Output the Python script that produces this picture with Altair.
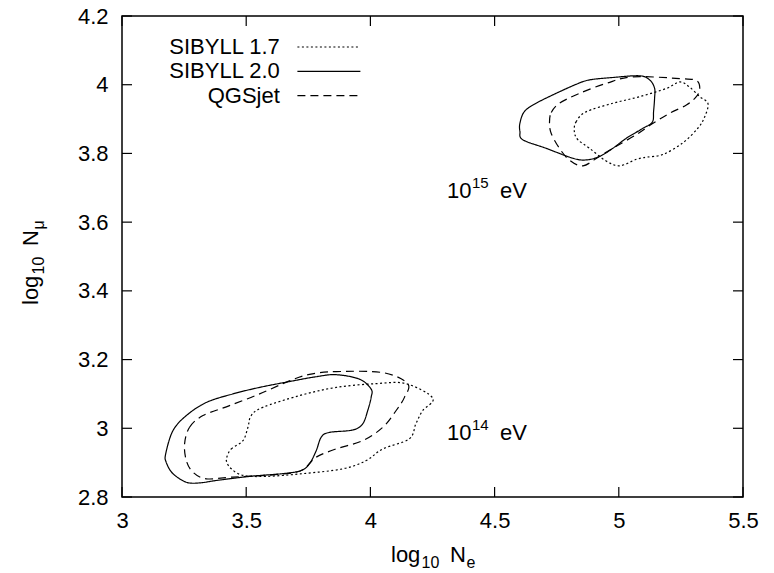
import altair as alt
import pandas as pd

# ---------------- data ----------------
X_TICKS = [3, 3.5, 4, 4.5, 5, 5.5]
Y_TICKS = [2.8, 3.0, 3.2, 3.4, 3.6, 3.8, 4.0, 4.2]
MODELS = ["SIBYLL 1.7", "SIBYLL 2.0", "QGSjet"]

# SIBYLL 2.0 (solid), 10^14 eV
sib20_lo_x = [3.176, 3.205, 3.259, 3.339, 3.446, 3.554, 3.674, 3.781, 3.862, 3.956, 4.003, 4.003, 3.989,
              3.969, 3.929, 3.835, 3.802, 3.782, 3.755, 3.721, 3.647, 3.513, 3.379, 3.312, 3.259, 3.205, 3.178]
sib20_lo_y = [2.926, 2.993, 3.037, 3.075, 3.100, 3.119, 3.136, 3.150, 3.156, 3.143, 3.114, 3.090, 3.051,
              3.013, 2.995, 2.988, 2.974, 2.935, 2.897, 2.877, 2.868, 2.860, 2.848, 2.841, 2.843, 2.868, 2.901]
# SIBYLL 2.0 (solid), 10^15 eV
sib20_hi_x = [4.602, 4.620, 4.667, 4.748, 4.828, 4.882, 4.976, 5.083, 5.124, 5.144, 5.144, 5.140, 5.135,
              5.097, 5.030, 4.976, 4.922, 4.868, 4.815, 4.707, 4.613, 4.602]
sib20_hi_y = [3.888, 3.922, 3.946, 3.975, 4.001, 4.014, 4.021, 4.026, 4.014, 3.990, 3.960, 3.922, 3.891,
              3.873, 3.844, 3.815, 3.791, 3.781, 3.786, 3.815, 3.840, 3.864]
# QGSjet (dashed), 10^14 eV
qgs_lo_x = [3.252, 3.272, 3.326, 3.433, 3.554, 3.674, 3.755, 3.862, 4.050, 4.150, 4.137, 4.103, 4.050,
            3.969, 3.862, 3.782, 3.741, 3.701, 3.580, 3.446, 3.339, 3.286, 3.259]
qgs_lo_y = [2.955, 3.003, 3.037, 3.066, 3.100, 3.138, 3.157, 3.165, 3.162, 3.130, 3.090, 3.051, 3.003,
            2.964, 2.940, 2.916, 2.887, 2.872, 2.863, 2.858, 2.853, 2.872, 2.906]
# QGSjet (dashed), 10^15 eV
qgs_hi_x = [4.721, 4.728, 4.761, 4.842, 4.950, 5.056, 5.245, 5.312, 5.326, 5.312, 5.272, 5.205, 5.138,
            5.071, 4.990, 4.923, 4.856, 4.801, 4.761, 4.728]
qgs_hi_y = [3.890, 3.919, 3.946, 3.975, 4.004, 4.023, 4.018, 4.012, 3.989, 3.965, 3.941, 3.917, 3.888,
            3.855, 3.821, 3.792, 3.764, 3.781, 3.815, 3.858]
# SIBYLL 1.7 (dotted), 10^14 eV
sib17_lo_x = [3.422, 3.440, 3.487, 3.507, 3.520, 3.567, 3.714, 3.862, 4.023, 4.143, 4.251, 4.210, 4.183,
              4.156, 4.050, 3.983, 3.889, 3.728, 3.580, 3.487, 3.440, 3.422]
sib17_lo_y = [2.916, 2.940, 2.964, 3.003, 3.037, 3.061, 3.095, 3.119, 3.130, 3.130, 3.088, 3.051, 3.013,
              2.969, 2.940, 2.906, 2.882, 2.868, 2.860, 2.863, 2.882, 2.901]
# SIBYLL 1.7 (dotted), 10^15 eV
sib17_hi_x = [4.821, 4.828, 4.868, 4.976, 5.083, 5.191, 5.245, 5.285, 5.326, 5.359, 5.346, 5.319, 5.258,
              5.178, 5.111, 5.071, 5.004, 4.949, 4.882, 4.835]
sib17_hi_y = [3.864, 3.892, 3.921, 3.946, 3.965, 3.989, 4.008, 3.993, 3.965, 3.945, 3.907, 3.874, 3.831,
              3.797, 3.789, 3.783, 3.764, 3.778, 3.815, 3.840]

# energy annotations (anchor in data coordinates)
ann_x = [4.308, 4.308]
ann_y = [3.670, 2.965]
ann_base = ["10", "10"]
ann_exp = ["15", "14"]
ann_unit = ["eV", "eV"]

# ---------------- build tables ----------------
contours = [
    ("SIBYLL 1.7", "lo", sib17_lo_x, sib17_lo_y),
    ("SIBYLL 1.7", "hi", sib17_hi_x, sib17_hi_y),
    ("SIBYLL 2.0", "lo", sib20_lo_x, sib20_lo_y),
    ("SIBYLL 2.0", "hi", sib20_hi_x, sib20_hi_y),
    ("QGSjet", "lo", qgs_lo_x, qgs_lo_y),
    ("QGSjet", "hi", qgs_hi_x, qgs_hi_y),
]
rows = []
for model, en, xs_, ys_ in contours:
    for i, (a, b) in enumerate(zip(xs_, ys_)):
        rows.append({"model": model, "cid": f"{model}-{en}", "i": i, "x": a, "y": b})
df = pd.DataFrame(rows)
ann = pd.DataFrame({"x": ann_x, "y": ann_y, "base": ann_base, "exp": ann_exp, "unit": ann_unit})
xt = pd.DataFrame({"x": X_TICKS})
yt = pd.DataFrame({"y": Y_TICKS})
one = pd.DataFrame({"a": [0]})

W, H = 621, 481
TOP = 2  # view top offset relative to legend reference (view starts 2px lower than reference)
FONT = "Liberation Sans"
xs = alt.Scale(domain=[3, 5.5], nice=False, zero=False)
ys = alt.Scale(domain=[2.8, 4.2], nice=False, zero=False)

xaxis = alt.Axis(values=X_TICKS, format="~g", title=None, grid=False, ticks=False, domain=False,
                 labelFont=FONT, labelFontSize=22, labelColor="black", labelPadding=13, labelFlush=False)
yaxis = alt.Axis(values=Y_TICKS, format=".1~f", title=None, grid=False, ticks=False, domain=False,
                 labelFont=FONT, labelFontSize=22, labelColor="black", labelPadding=14, labelFlush=False)
X = alt.X("x:Q", scale=xs, axis=xaxis, title=None)
Y = alt.Y("y:Q", scale=ys, axis=yaxis, title=None)

S = 22.2  # legend entry size (sqrt(symbolSize) + stroke)
lines = alt.Chart(df).mark_line(interpolate="cardinal-closed", color="black", strokeWidth=1.2).encode(
    x=X,
    y=Y,
    detail="cid:N",
    order="i:Q",
    strokeDash=alt.StrokeDash(
        "model:N",
        scale=alt.Scale(domain=MODELS, range=[[2, 2.5], [1, 0], [8, 5]]),
        legend=alt.Legend(orient="none", legendX=20, legendY=21.5 - TOP, title=None, padding=0,
                          symbolType="M-3,0H3", symbolSize=441, symbolStrokeWidth=1.2,
                          symbolStrokeColor="black", symbolFillColor="transparent",
                          labelFont=FONT, labelFontSize=22,
                          labelColor="black", labelAlign="right",
                          labelOffset={"expr": str(round(157 - 20 - (206.5 - 20 - S / 2) - S, 1))},
                          symbolOffset=round(206.5 - 20 - S / 2, 1), rowPadding=1.3, labelLimit=400),
    ),
)

# inward ticks on all four sides
tick_b = alt.Chart(xt).mark_rule(color="black", strokeWidth=1.2).encode(
    x=X, y=alt.value(H), y2=alt.value(H - 10))
tick_t = alt.Chart(xt).mark_rule(color="black", strokeWidth=1.2).encode(
    x=X, y=alt.value(0), y2=alt.value(10))
tick_l = alt.Chart(yt).mark_rule(color="black", strokeWidth=1.2).encode(
    y=Y, x=alt.value(0), x2=alt.value(10))
tick_r = alt.Chart(yt).mark_rule(color="black", strokeWidth=1.2).encode(
    y=Y, x=alt.value(W), x2=alt.value(W - 10))

# energy labels
a_base = alt.Chart(ann).mark_text(font=FONT, fontSize=22, align="left", baseline="alphabetic",
                                  color="black").encode(x=X, y=Y, text="base:N")
a_exp = alt.Chart(ann).mark_text(font=FONT, fontSize=15, align="left", baseline="alphabetic",
                                 color="black", dx=25, dy=-10).encode(x=X, y=Y, text="exp:N")
a_unit = alt.Chart(ann).mark_text(font=FONT, fontSize=22, align="left", baseline="alphabetic",
                                  color="black", dx=53).encode(x=X, y=Y, text="unit:N")


def piece(txt, px, py, size, angle=0):
    m = alt.Chart(one).mark_text(font=FONT, fontSize=size, align="left", baseline="alphabetic",
                                 color="black", angle=angle)
    return m.encode(x=alt.value(px), y=alt.value(py), text=alt.value(txt))


# x-axis title: log10 Ne
XB = 548 - TOP
xt_parts = [piece("log", 269, XB, 22), piece("10", 299.5, XB + 6, 16),
            piece("N", 328, XB, 22), piece("e", 344.5, XB + 6, 16)]
# y-axis title: log10 Nmu (rotated)
YB = -84
YS = 291 - TOP
yt_parts = [piece("log", YB, YS, 22, 270), piece("10", YB + 6, YS - 30.5, 16, 270),
            piece("N", YB, YS - 59, 22, 270), piece("μ", YB + 6, YS - 75.5, 16, 270)]

chart = alt.layer(lines, tick_b, tick_t, tick_l, tick_r, a_base, a_exp, a_unit,
                  *xt_parts, *yt_parts).properties(
    width=W, height=H,
    autosize=alt.AutoSizeParams(type="none"),
    padding={"left": 114, "top": 8, "right": 23, "bottom": 76},
    background="white",
).configure_view(stroke="black", strokeWidth=1.5)

chart.save("out.html", embed_options={"renderer": "svg", "actions": False})
